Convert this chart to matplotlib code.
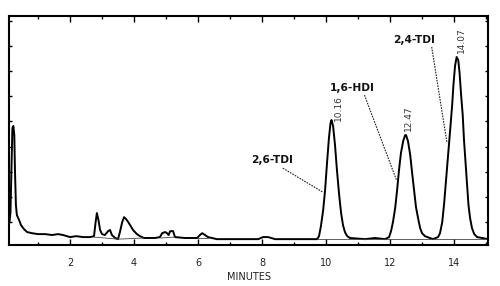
import matplotlib
matplotlib.use("Agg")
import matplotlib.pyplot as plt
import numpy as np

# trace: time (min) and detector signal (% of full scale)
t = [0.11, 0.14, 0.17, 0.20, 0.23, 0.26, 0.28, 0.31, 0.34, 0.41, 0.47, 0.56, 0.66,
     0.81, 1.0, 1.22, 1.44, 1.63, 1.78, 2.0, 2.19, 2.41, 2.63, 2.75, 2.80, 2.84,
     2.89, 2.94, 3.0, 3.09, 3.19, 3.25, 3.31, 3.41, 3.5, 3.56, 3.63, 3.69, 3.75,
     3.84, 3.97, 4.09, 4.19, 4.31, 4.66, 4.81, 4.88, 4.97, 5.03, 5.08, 5.13, 5.22,
     5.28, 5.59, 5.97, 6.06, 6.13, 6.22, 6.31, 6.59, 7.31, 7.88, 8.03, 8.19, 8.41,
     9.72, 9.78, 9.84, 9.91, 9.97, 10.03, 10.09, 10.14, 10.17, 10.22, 10.28, 10.34,
     10.41, 10.47, 10.53, 10.59, 10.66, 10.75, 11.22, 11.53, 11.84,
     11.97, 12.03, 12.09, 12.16, 12.22, 12.28, 12.34, 12.41, 12.47, 12.50, 12.56,
     12.63, 12.69, 12.75, 12.81, 12.88, 12.94, 13.0, 13.09, 13.25, 13.34,
     13.5, 13.56, 13.63, 13.69, 13.75, 13.80, 13.84, 13.89, 13.94, 13.98, 14.03,
     14.08, 14.13, 14.17, 14.22, 14.27, 14.31, 14.36, 14.41, 14.45, 14.5, 14.56,
     14.63, 14.72, 14.88, 15.06]
signal = [10.0, 14.4, 32.8, 51.1, 52.0, 48.0, 32.8, 17.5, 13.1, 10.9, 8.7, 7.0, 5.7,
          5.2, 4.8, 4.8, 4.4, 4.8, 4.4, 3.5, 3.9, 3.5, 3.5, 3.9, 10.0, 14.0,
          10.9, 6.6, 4.8, 4.4, 6.1, 6.6, 4.4, 3.1, 2.6, 5.7, 10.0, 12.2, 11.4,
          9.6, 6.6, 4.8, 3.9, 3.1, 3.1, 3.5, 5.2, 5.7, 5.2, 4.4, 6.1, 6.1,
          3.5, 3.1, 3.1, 4.4, 5.2, 4.4, 3.5, 2.6, 2.6, 2.6, 3.5, 3.5, 2.6,
          2.6, 3.9, 8.3, 15.3, 24.0, 35.8, 46.7, 53.3, 54.6, 52.0, 43.7, 32.8,
          21.8, 14.0, 8.7, 5.7, 3.9, 3.1, 2.6, 3.1, 2.6,
          3.5, 6.1, 10.0, 16.2, 24.0, 32.8, 40.2, 45.4, 48.0, 48.0, 45.4,
          39.3, 31.4, 24.0, 16.6, 11.4, 7.4, 5.2, 3.9, 3.1, 2.6,
          3.5, 5.2, 10.0, 18.3, 28.4, 37.1, 43.7, 52.4, 61.1, 69.9, 78.2,
          82.1, 80.8, 75.5, 65.5, 56.8, 45.9, 35.8, 25.8, 17.5, 11.8, 7.4,
          4.8, 3.5, 3.1, 2.6]

# integration baselines (thin lines)
base_t = [[2.75, 3.5], [3.5, 4.31], [4.81, 5.28], [5.97, 6.31], [9.72, 15.06]]
base_s = [[3.5, 2.6], [2.6, 3.1], [3.1, 3.5], [3.1, 3.1], [2.6, 2.6]]

# named peaks
peak_names = ["2,6-TDI", "1,6-HDI", "2,4-TDI"]
peak_rt = [10.16, 12.47, 14.07]
name_xy = [(8.3, 37.1), (10.83, 68.6), (12.75, 89.5)]
leader_from = [(8.65, 33.6), (11.2, 65.5), (13.3, 86.5)]
leader_to = [(9.9, 23.1), (12.2, 28.4), (13.78, 44.5)]
rt_label_x = [10.38, 12.56, 14.22]
rt_label_y = [59.8, 55.5, 89.5]

fig = plt.figure(figsize=(5.0, 2.86), dpi=100)
ax = fig.add_axes([0.018, 0.143, 0.958, 0.801])

ax.plot(t, signal, color="black", lw=1.4, solid_joinstyle="round")
for bt, bs in zip(base_t, base_s):
    ax.plot(bt, bs, color="#444444", lw=0.6)

for name, rt, nxy, lf, lt, rx, ry in zip(peak_names, peak_rt, name_xy, leader_from,
                                         leader_to, rt_label_x, rt_label_y):
    ax.text(nxy[0], nxy[1], name, fontsize=7.7, fontweight="bold",
            ha="center", va="center", color="#111111")
    ax.plot([lf[0], lt[0]], [lf[1], lt[1]], color="#222222", lw=0.8,
            linestyle=(0, (1.5, 1)))
    ax.text(rx, ry, "%.2f" % rt, rotation=90, fontsize=6.5,
            ha="center", va="center", color="#333333")

ax.set_xlim(0.094, 15.06)
ax.set_ylim(0, 100)
ax.set_xticks(np.arange(2, 15, 2))
ax.set_xticks(np.arange(1, 16, 1), minor=True)
ax.set_yticks(np.arange(10, 100, 11))
ax.set_yticklabels([])
ax.tick_params(axis="x", which="major", direction="in", length=4, width=1,
               top=True, labelsize=7, pad=9, labelcolor="#222222")
ax.tick_params(axis="x", which="minor", direction="in", length=2.5, width=1,
               top=True)
ax.tick_params(axis="y", direction="in", length=2.5, width=1, right=True,
               left=True)
for sp in ax.spines.values():
    sp.set_linewidth(1.5)

ax.set_xlabel("MINUTES", fontsize=7, labelpad=3, color="#222222")

fig.savefig("out.png", dpi=100)
